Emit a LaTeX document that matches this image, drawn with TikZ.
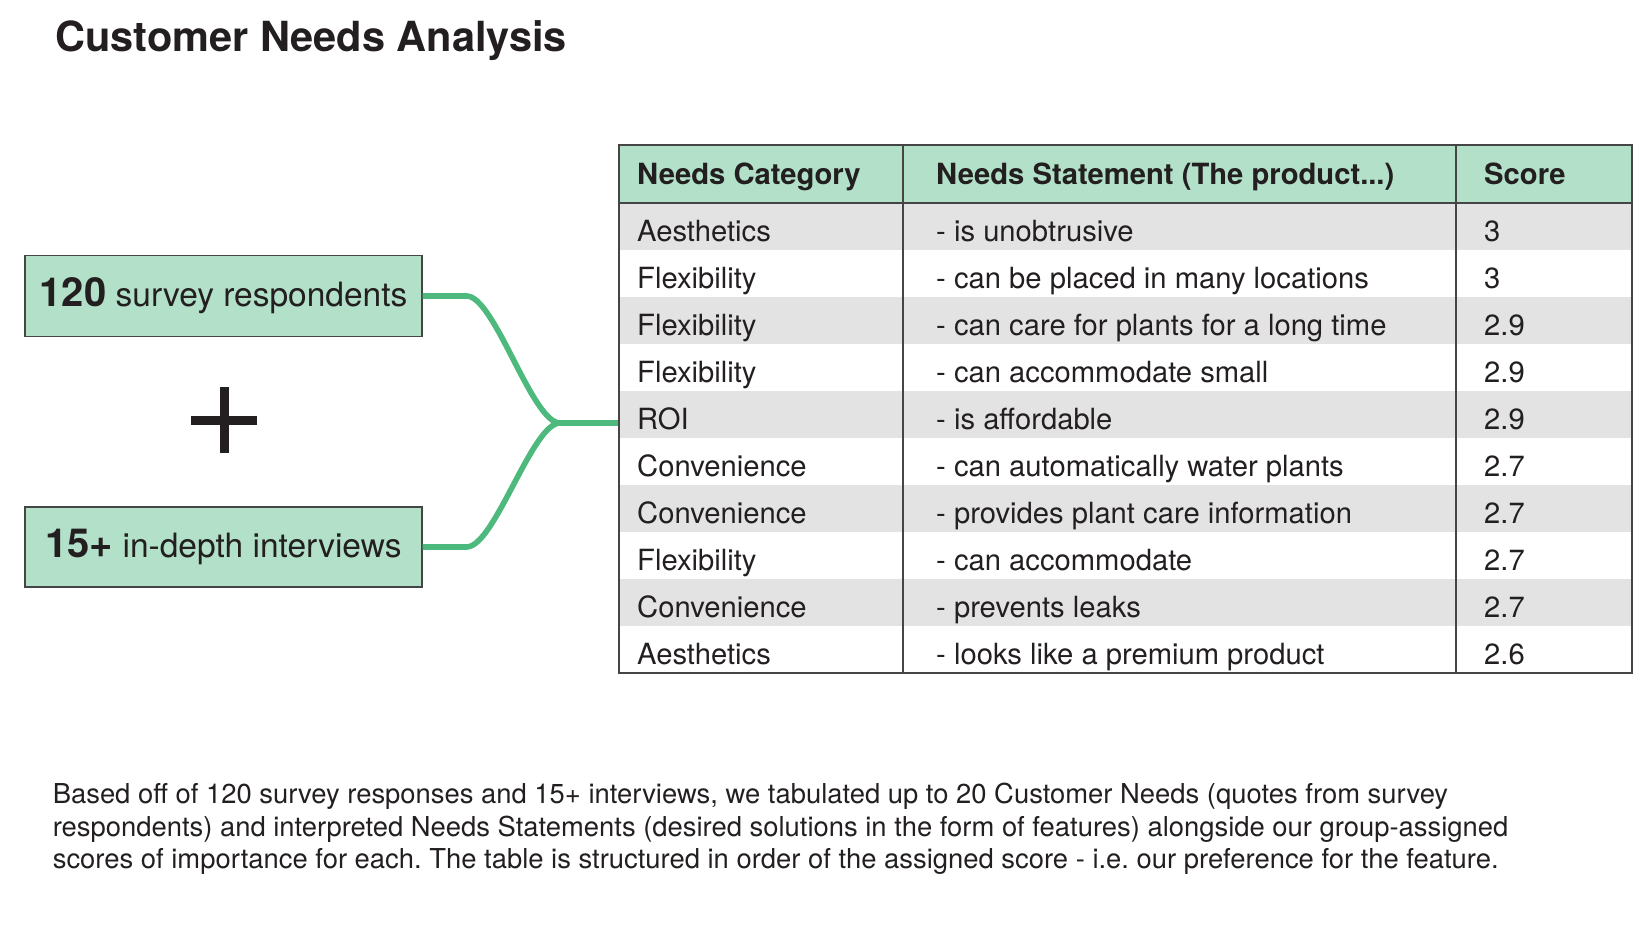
\documentclass[tikz,border=0pt]{standalone}
\usepackage{fontspec}
\setmainfont{TeX Gyre Heros}
\frenchspacing
\definecolor{txt}{HTML}{231F20}
\definecolor{mint}{HTML}{B2E0C8}
\definecolor{leaf}{HTML}{4DB97D}
\definecolor{rowgray}{HTML}{E3E3E3}
\definecolor{rule}{HTML}{454545}
\tikzset{
  srcbox/.style={draw=rule, line width=1.2pt, fill=mint, minimum width=397pt, inner sep=0pt, text=txt},
  cell/.style={anchor=base west, inner sep=0pt, text=txt, font=\fontsize{29.2}{35}\selectfont},
  headcell/.style={cell, font=\fontsize{29.2}{35}\selectfont\bfseries},
  link/.style={draw=leaf, line width=5.6pt},
}
\begin{document}
\begin{tikzpicture}[x=1pt,y=-1pt]
\useasboundingbox (0,0) rectangle (1650,950);
% title
\node[anchor=base west, inner sep=0pt, text=txt, font=\fontsize{41.5}{48}\selectfont\bfseries] (title) at (55,52) {Customer Needs Analysis};
% source boxes
\node[srcbox, minimum height=81pt, font=\fontsize{33.5}{40}\selectfont] (b1) at (223.5,296) {{\fontsize{40}{46}\selectfont\bfseries 120} survey respondents};
\node[srcbox, minimum height=80pt, font=\fontsize{33.5}{40}\selectfont] (b2) at (223.5,547) {{\fontsize{40}{46}\selectfont\bfseries 15+} in-depth interviews};
% plus
\coordinate (pc) at (224,420);
\draw[txt, line width=9pt] ([xshift=-33pt]pc) -- ([xshift=33pt]pc);
\draw[txt, line width=9pt] ([yshift=-33pt]pc) -- ([yshift=33pt]pc);
% table background
\fill[mint] (619,145) rectangle (1632,203);
\foreach \r in {0,2,4,6,8} {
  \fill[rowgray] (619,{203+47*\r}) rectangle (1632,{250+47*\r});
}
\node[draw=rule, line width=1.3pt, minimum width=1013pt, minimum height=528pt, inner sep=0pt] (table) at (1125.5,409) {};
\draw[rule, line width=1.3pt] (table.west |- 0,203) -- (table.east |- 0,203);
\draw[rule, line width=1.3pt] (903,145) -- (903,673);
\draw[rule, line width=1.3pt] (1456,145) -- (1456,673);
% header
\node[headcell] (h1) at (637,184) {Needs Category};
\node[headcell] (h2) at (936,184) {Needs Statement (The product...)};
\node[headcell] (h3) at (1484,184) {Score};
% rows
\foreach \i/\c/\s/\v in {
  1/Aesthetics/- is unobtrusive/3,
  2/Flexibility/- can be placed in many locations/3,
  3/Flexibility/- can care for plants for a long time/2.9,
  4/Flexibility/- can accommodate small/2.9,
  5/ROI/- is affordable/2.9,
  6/Convenience/- can automatically water plants/2.7,
  7/Convenience/- provides plant care information/2.7,
  8/Flexibility/- can accommodate/2.7,
  9/Convenience/- prevents leaks/2.7,
  10/Aesthetics/- looks like a premium product/2.6} {
  \node[cell] (c\i) at (637,{241+47*(\i-1)}) {\c};
  \node[cell] (s\i) at (936,{241+47*(\i-1)}) {\s};
  \node[cell] (v\i) at (1484,{241+47*(\i-1)}) {\v};
}
% connectors
\coordinate (junc) at (560,423);
\draw[link] (b1.east) -- ++(44,0) .. controls +(28,0) and +(-28,0) .. (junc);
\draw[link] (b2.east) -- ++(44,0) .. controls +(28,0) and +(-28,0) .. (junc);
\draw[link] (junc) -- (junc -| table.west);
% paragraph
\node[anchor=north west, inner sep=0pt, text=txt, align=left, font=\fontsize{27.4}{32.5}\selectfont] (para) at (52.6,783) {Based off of 120 survey responses and 15+ interviews, we tabulated up to 20 Customer Needs (quotes from survey\\respondents) and interpreted Needs Statements (desired solutions in the form of features) alongside our group-assigned\\scores of importance for each. The table is structured in order of the assigned score - i.e. our preference for the feature.};
\end{tikzpicture}
\end{document}
